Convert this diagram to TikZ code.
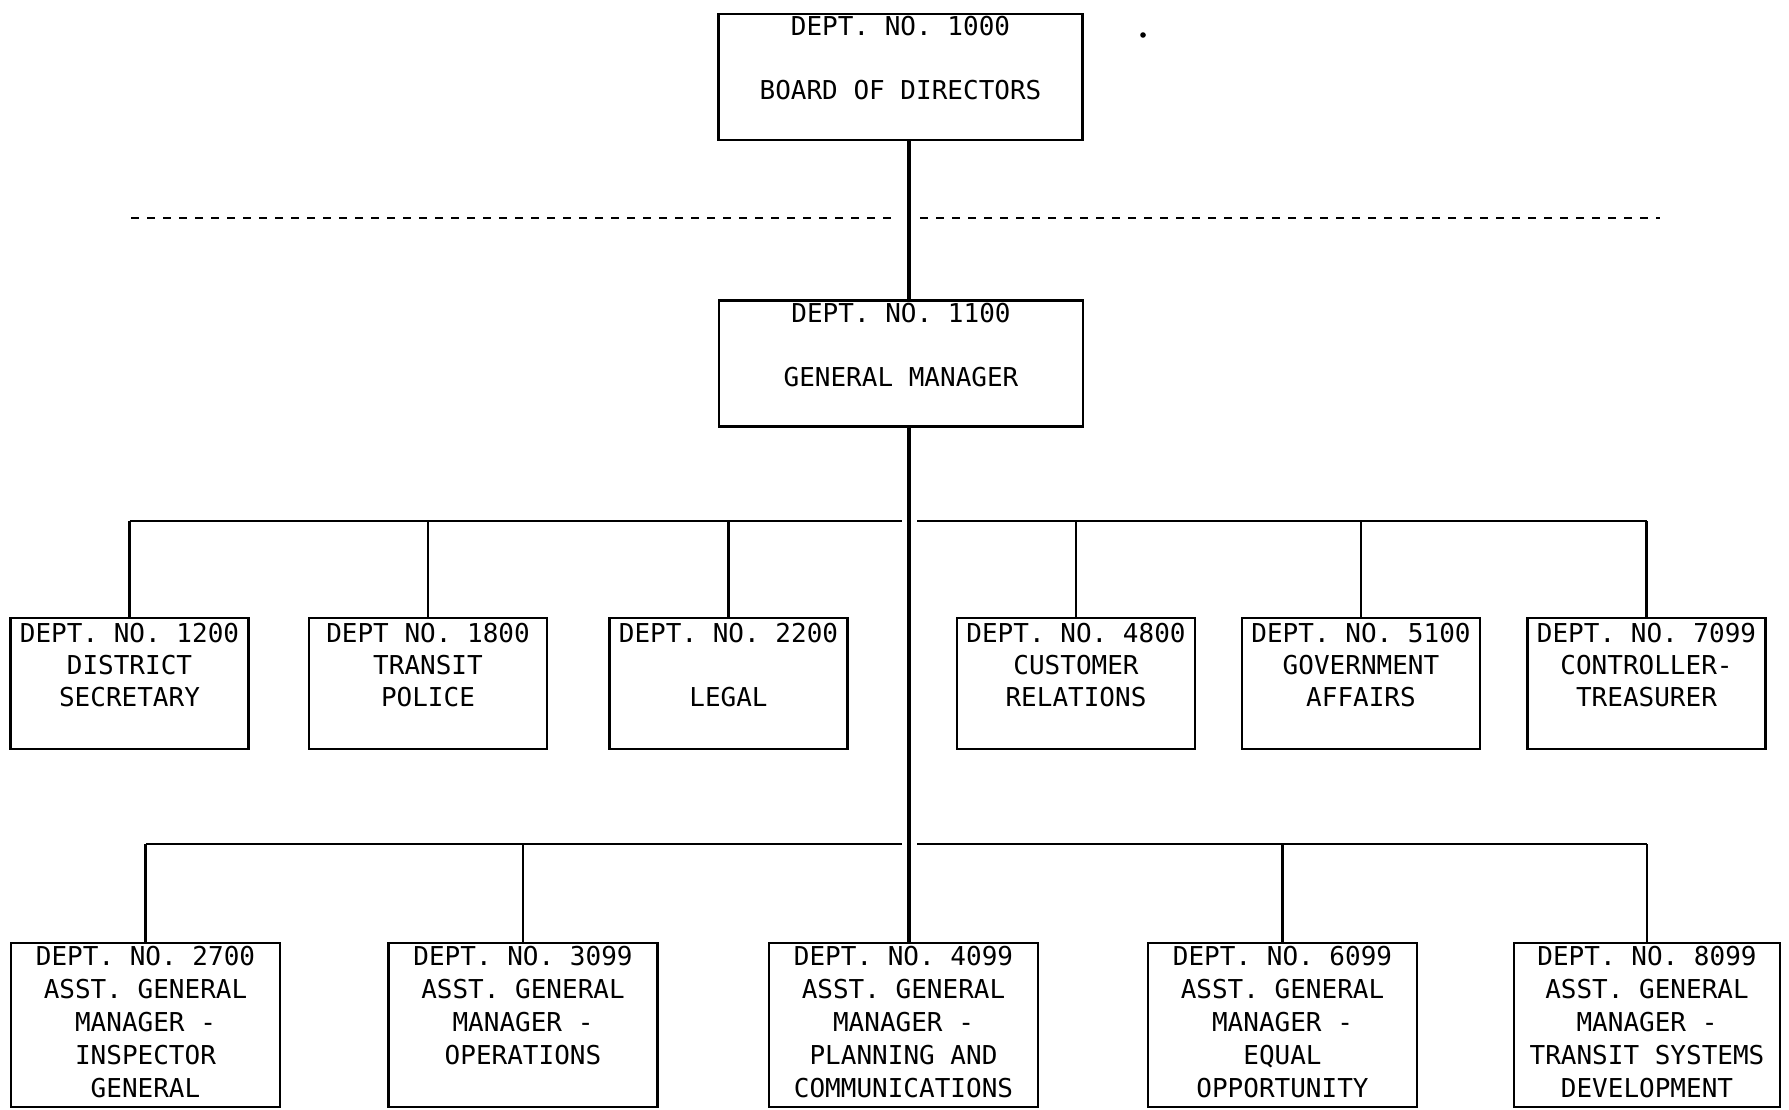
\documentclass[tikz,border=0pt]{standalone}
\usepackage{fontspec}
\usepackage{tikz}
\usetikzlibrary{positioning}
\newfontfamily\deptfont{DejaVu Sans Mono}
\tikzstyle{dept} = [draw, line width=2.2pt, align=center, inner sep=0pt, execute at begin node={\rule{0pt}{27pt}}, execute at end node={\rule[-6pt]{0pt}{6pt}}]
\tikzstyle{topbox} = [dept, minimum width=364pt, minimum height=126pt]
\tikzstyle{staffbox} = [dept, minimum width=238pt, minimum height=131pt]
\tikzstyle{agmbox} = [dept, minimum width=269pt, minimum height=164pt, font=\deptfont\fontsize{26}{33}\selectfont]
\tikzstyle{link} = [line width=2.4pt]
\tikzstyle{bar} = [line width=2pt]
\tikzstyle{cutline} = [line width=2.8pt, dash pattern=on 8pt off 8pt]

\begin{document}
\begin{tikzpicture}[
        x=1pt, y=-1pt,
        every node/.style={font=\deptfont\fontsize{26}{32}\selectfont}
        ]
    \useasboundingbox (0,0) rectangle (1789,1109);
    % board and general manager
    \node[topbox] (board) at (900.5,77) {DEPT. NO. 1000\\\strut\\BOARD OF DIRECTORS\\};
    \node[topbox] (gm) at (901,363.5) {DEPT. NO. 1100\\\strut\\GENERAL MANAGER\\};
    \fill (1143,35) circle (2.8pt);

    % staff departments
    \node[staffbox] (d1200) at (129.5,683.5) {DEPT. NO. 1200\\DISTRICT\\SECRETARY\\};
    \node[staffbox] (d1800) at (428,683.5) {DEPT NO. 1800\\TRANSIT\\POLICE\\};
    \node[staffbox] (d2200) at (728.5,683.5) {DEPT. NO. 2200\\\strut\\LEGAL\\};
    \node[staffbox] (d4800) at (1076,683.5) {DEPT. NO. 4800\\CUSTOMER\\RELATIONS\\};
    \node[staffbox] (d5100) at (1361,683.5) {DEPT. NO. 5100\\GOVERNMENT\\AFFAIRS\\};
    \node[staffbox] (d7099) at (1646.5,683.5) {DEPT. NO. 7099\\CONTROLLER-\\TREASURER\\};

    % assistant general managers
    \node[agmbox] (d2700) at (145.5,1025) {DEPT. NO. 2700\\ASST. GENERAL\\MANAGER -\\INSPECTOR\\GENERAL};
    \node[agmbox] (d3099) at (523,1025) {DEPT. NO. 3099\\ASST. GENERAL\\MANAGER -\\OPERATIONS\\};
    \node[agmbox] (d4099) at (903.5,1025) {DEPT. NO. 4099\\ASST. GENERAL\\MANAGER -\\PLANNING AND\\COMMUNICATIONS};
    \node[agmbox] (d6099) at (1282.5,1025) {DEPT. NO. 6099\\ASST. GENERAL\\MANAGER -\\EQUAL\\OPPORTUNITY};
    \node[agmbox, minimum width=266pt] (d8099) at (1647,1025) {DEPT. NO. 8099\\ASST. GENERAL\\MANAGER -\\TRANSIT SYSTEMS\\DEVELOPMENT};

    % lines
    \coordinate (trunk) at (909,0);
    \coordinate (cutL) at (131,218);
    \coordinate (cutR) at (1660,218);
    \coordinate (bar1) at (0,521);
    \coordinate (bar2) at (0,844);
    \draw[cutline] (cutL) -- ([xshift=-12pt]trunk |- cutL);
    \draw[cutline] ([xshift=11pt]trunk |- cutR) -- (cutR);
    \draw[link, line width=3.2pt] (board.south -| trunk) -- (gm.north -| trunk);
    \draw[link, line width=3.2pt] (gm.south -| trunk) -- (d4099.north -| trunk);
    \draw[bar] (d1200.north |- bar1) -- ([xshift=-7pt]trunk |- bar1);
    \draw[bar] ([xshift=8pt]trunk |- bar1) -- (d7099.north |- bar1);
    \draw[bar] (d2700.north |- bar2) -- ([xshift=-7pt]trunk |- bar2);
    \draw[bar] ([xshift=8pt]trunk |- bar2) -- (d8099.north |- bar2);
    \foreach \d in {d1200,d1800,d2200,d4800,d5100,d7099}
        \draw[link] (\d.north) -- (\d.north |- bar1);
    \foreach \d in {d2700,d3099,d6099,d8099}
        \draw[link] (\d.north) -- (\d.north |- bar2);
\end{tikzpicture}
\end{document}
